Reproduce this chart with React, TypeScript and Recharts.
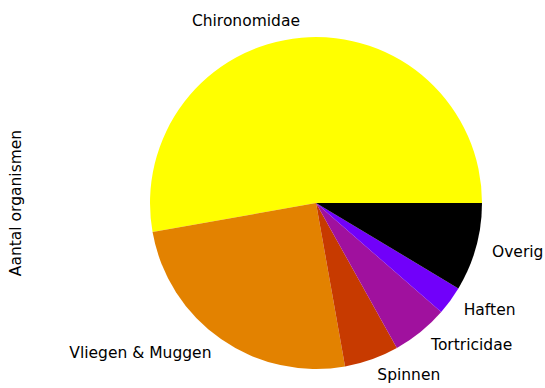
import React from 'react'
import { Cell, Pie, PieChart } from 'recharts'

const categories = ['Chironomidae', 'Vliegen & Muggen', 'Spinnen', 'Tortricidae', 'Haften', 'Overig']
const counts = [528, 250, 53, 55, 28, 86]
const colors = ['#ffff00', '#e38200', '#c73a00', '#a0119e', '#7100fa', '#000000']

const data = categories.map((name, i) => ({ name, value: counts[i] }))

const RAD = Math.PI / 180

const renderLabel = (props: any) => {
  const { cx, cy, midAngle, outerRadius, name } = props
  const r = outerRadius * 1.1
  const x = cx + r * Math.cos(-midAngle * RAD)
  const y = cy + r * Math.sin(-midAngle * RAD)
  return (
    <text
      x={x}
      y={y}
      textAnchor={x < cx ? 'end' : 'start'}
      dominantBaseline="central"
      fill="#000"
      fontSize={15.5}
      fontFamily="DejaVu Sans"
    >
      {name}
    </text>
  )
}

function App() {
  return (
    <div style={{ position: 'absolute', left: 0, top: 0, width: 545, height: 388, background: '#fff' }}>
      <PieChart width={545} height={388} margin={{ top: 0, right: 0, bottom: 0, left: 0 }}>
        <Pie
          data={data}
          dataKey="value"
          nameKey="name"
          cx={316}
          cy={203}
          outerRadius={166}
          startAngle={0}
          endAngle={360}
          stroke="none"
          label={renderLabel}
          labelLine={false}
          isAnimationActive={false}
        >
          {data.map((d, i) => (
            <Cell key={d.name} fill={colors[i]} stroke="none" />
          ))}
        </Pie>
        <text
          x={16}
          y={203}
          transform="rotate(-90 16 203)"
          textAnchor="middle"
          dominantBaseline="central"
          fill="#000"
          fontSize={15.5}
          fontFamily="DejaVu Sans"
        >
          Aantal organismen
        </text>
      </PieChart>
    </div>
  )
}

export default App
